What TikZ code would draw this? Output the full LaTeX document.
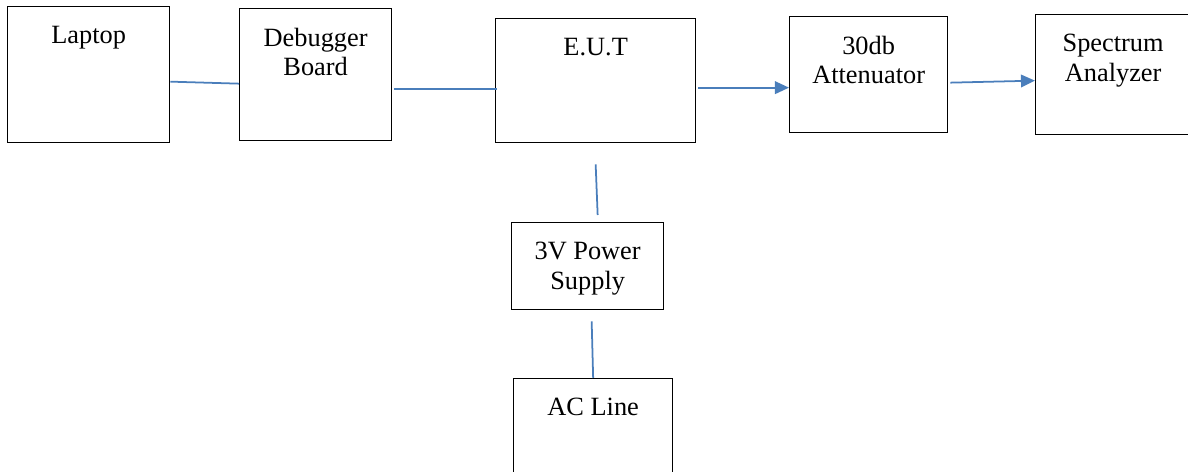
\documentclass[tikz,border=0pt]{standalone}
\usepackage{fontspec}
\setmainfont{Liberation Serif}
\usetikzlibrary{arrows.meta,calc}
\definecolor{linkblue}{RGB}{74,126,187}
\colorlet{figink}{black}

\begin{document}
\begin{tikzpicture}[
  x=0.02cm, y=-0.02cm,
  font=\fontsize{15}{17}\selectfont,
  blk/.style={draw=figink, line width=0.75pt, inner sep=0pt, anchor=north west},
  blktext/.style={anchor=north, inner sep=0pt, yshift=-0.39cm, align=center},
  wire/.style={draw=linkblue, line width=1pt},
  feed/.style={wire, -{Triangle[length=8pt, width=7.2pt]}},
]
  \useasboundingbox (0,0) rectangle (1188,472);
  % boxes: name/left/top/width/height/text (pixel grid, y downwards)
  \foreach \nm/\lx/\ty/\w/\h/\txt in {
      lap/7/6/162/136/{Laptop},
      dbg/239/8/152/132/{Debugger\\Board},
      eut/495/18/200/124/{E.U.T},
      att/789/16/158/116/{30db\\Attenuator},
      spa/1035/14/155/120/{Spectrum\\Analyzer},
      psu/511/222/152/87/{3V Power\\Supply},
      acl/513/378/159/110/{AC Line}} {
    \node[blk, minimum width=\w*0.02cm, minimum height=\h*0.02cm,
          label={[blktext]north:\txt}] (\nm) at (\lx,\ty) {};
  }
  % signal chain
  \draw[wire] ($(lap.east)+(0,7)$) -- ($(dbg.west)+(0,9)$);
  \draw[wire] ($(dbg.east)+(2,14)$) -- ($(eut.west)+(2,8)$);
  \draw[feed] ($(eut.east)+(2,7)$) -- ($(att.west)+(0,13)$);
  \draw[feed] ($(att.east)+(2,8)$) -- ($(spa.west)+(0,6)$);
  % supply
  \draw[wire] ($(eut.south)+(0,21)$) -- ($(psu.north)+(10,-7)$);
  \draw[wire] ($(psu.south)+(4,11)$) -- (acl.north);
\end{tikzpicture}
\end{document}
